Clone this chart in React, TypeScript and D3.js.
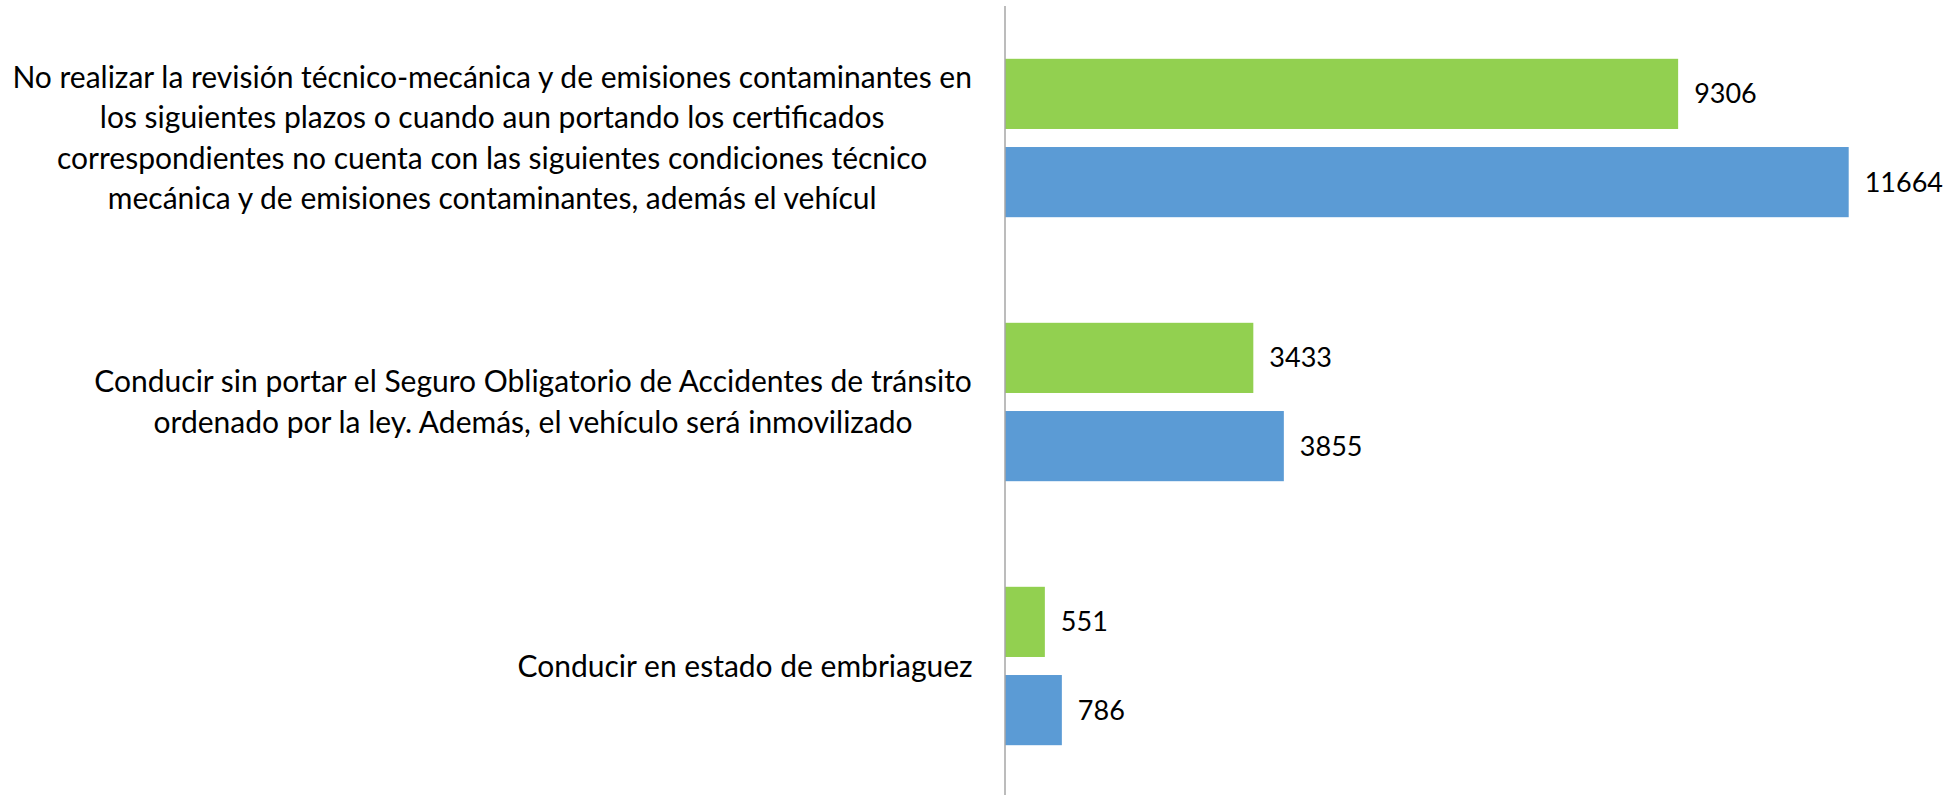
import React from "react";
import * as d3 from "d3";

// category labels, already broken into lines like the original
const categories = [
  [
    "No realizar la revisión técnico-mecánica y de emisiones contaminantes en",
    "los siguientes plazos o cuando aun portando los certificados",
    "correspondientes no cuenta con las siguientes condiciones técnico",
    "mecánica y de emisiones contaminantes, además el vehícul",
  ],
  [
    "Conducir sin portar el Seguro Obligatorio de Accidentes de tránsito",
    "ordenado por la ley. Además, el vehículo será inmovilizado",
  ],
  ["Conducir en estado de embriaguez"],
];

const seriesKeys = ["serie1", "serie2"];
const serie1 = [9306, 3433, 551];
const serie2 = [11664, 3855, 786];
const colors = ["#92D050", "#5B9BD5"];

const fontFamily = "Lato, 'Open Sans', sans-serif";
const catFont = 30;

// measure text so each label block can sit against the axis
let ctx: CanvasRenderingContext2D | null = null;
function measure(t: string) {
  if (!ctx) ctx = document.createElement("canvas").getContext("2d");
  if (!ctx) return t.length * catFont * 0.45;
  ctx.font = `${catFont}px Lato`;
  return ctx.measureText(t).width;
}

const App = () => {
  const width = 1960;
  const height = 795;
  const axisX = 1005;
  const labelRight = 973;

  const catIdx = categories.map((_, i) => i);

  const y0 = d3
    .scaleBand<number>()
    .domain(catIdx)
    .range([6, 798])
    .paddingInner(0.4)
    .paddingOuter(0.2);

  const y1 = d3
    .scaleBand<string>()
    .domain(seriesKeys)
    .range([0, y0.bandwidth()])
    .paddingInner(0.2045);

  const x = d3.scaleLinear().domain([0, 12000]).range([axisX, 1873]);

  const values = [serie1, serie2];
  const lineH = 40.5;

  return (
    <svg
      width={width}
      height={height}
      style={{ position: "absolute", left: 0, top: 0, background: "#fff" }}
      fontFamily={fontFamily}
    >
      {catIdx.map((i) => {
        const cy = y0(i)! + y0.bandwidth() / 2;
        const lines = categories[i];
        const maxW = d3.max(lines, (l) => measure(l)) || 0;
        const cx = labelRight - maxW / 2;
        return (
          <g key={i}>
            {seriesKeys.map((k, s) => {
              const v = values[s][i];
              const by = y0(i)! + y1(k)!;
              return (
                <g key={k}>
                  <rect
                    x={x(0)}
                    y={by}
                    width={x(v) - x(0)}
                    height={y1.bandwidth()}
                    fill={colors[s]}
                  />
                  <text
                    x={x(v) + 16}
                    y={by + y1.bandwidth() / 2}
                    dy="0.35em"
                    fontSize={27}
                    fill="#000"
                  >
                    {v}
                  </text>
                </g>
              );
            })}
            {lines.map((line, j) => (
              <text
                key={j}
                x={cx}
                y={cy + (j - (lines.length - 1) / 2) * lineH}
                dy="0.35em"
                textAnchor="middle"
                fontSize={catFont}
                fill="#000"
              >
                {line}
              </text>
            ))}
          </g>
        );
      })}
      <line x1={axisX} x2={axisX} y1={6} y2={height} stroke="#A6A6A6" strokeWidth={1.5} />
    </svg>
  );
};

export default App;
